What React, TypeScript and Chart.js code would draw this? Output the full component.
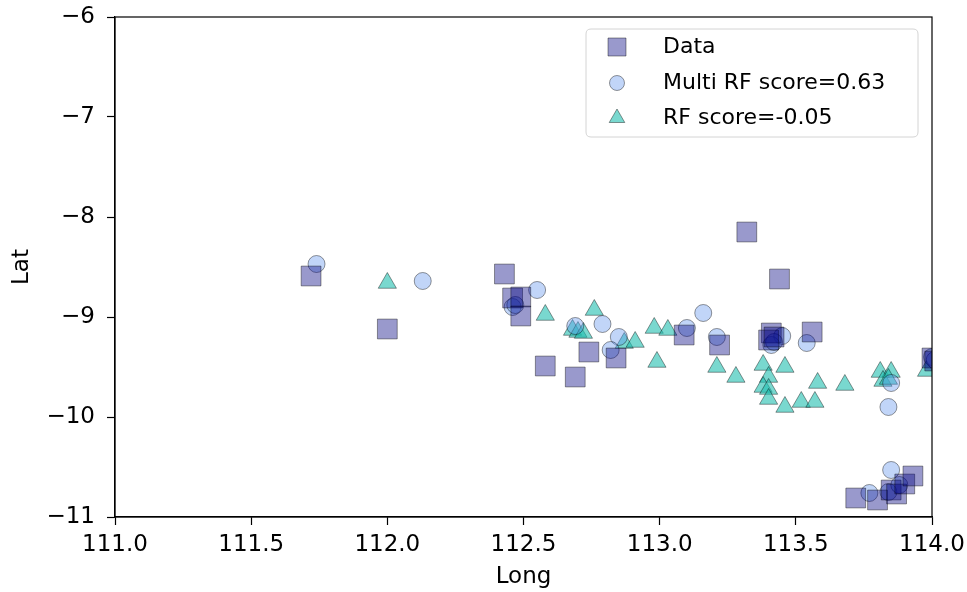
import React, { useEffect, useRef } from 'react';
import { Chart, registerables } from 'chart.js';
Chart.register(...registerables);

const seriesLabels = ['Data', 'Multi RF score=0.63', 'RF score=-0.05'];

const dataLong = [111.72, 112.0, 112.43, 112.46, 112.49, 112.49, 112.58, 112.69, 112.74, 112.84, 113.09, 113.22, 113.32, 113.44, 113.41, 113.4, 113.42, 113.56, 114.0, 114.01, 113.72, 113.8, 113.85, 113.87, 113.9, 113.93];
const dataLat = [-8.59, -9.12, -8.57, -8.81, -8.8, -8.99, -9.49, -9.6, -9.35, -9.41, -9.18, -9.28, -8.15, -8.62, -9.16, -9.23, -9.2, -9.15, -9.41, -9.44, -10.81, -10.83, -10.73, -10.77, -10.67, -10.59];

const multiLong = [111.74, 112.13, 112.55, 112.46, 112.47, 112.69, 112.79, 112.85, 112.82, 113.16, 113.1, 113.21, 113.45, 113.41, 113.42, 113.54, 113.85, 113.84, 114.0, 114.01, 113.85, 113.77, 113.84, 113.88];
const multiLat = [-8.47, -8.64, -8.73, -8.9, -8.88, -9.09, -9.07, -9.2, -9.33, -8.96, -9.11, -9.2, -9.19, -9.28, -9.25, -9.26, -9.66, -9.9, -9.4, -9.43, -10.53, -10.76, -10.75, -10.68];

const rfLong = [112.0, 112.58, 112.76, 112.68, 112.7, 112.72, 112.87, 112.91, 112.98, 113.03, 112.99, 113.21, 113.28, 113.38, 113.46, 113.4, 113.38, 113.4, 113.4, 113.46, 113.52, 113.57, 113.58, 113.68, 113.81, 113.85, 113.82, 113.84, 113.98];
const rfLat = [-8.66, -8.98, -8.93, -9.13, -9.15, -9.16, -9.26, -9.25, -9.11, -9.13, -9.45, -9.5, -9.6, -9.48, -9.5, -9.6, -9.7, -9.72, -9.82, -9.9, -9.85, -9.85, -9.66, -9.68, -9.55, -9.55, -9.64, -9.62, -9.54];

const xTicks = [111.0, 111.5, 112.0, 112.5, 113.0, 113.5, 114.0];
const yTicks = [-11, -10, -9, -8, -7, -6];

const FONT = 'DejaVu Sans';
const FS = 23;

const colData = 'rgba(0,0,128,0.4)';
const colMulti = 'rgba(100,149,237,0.4)';
const colRF = 'rgba(32,190,175,0.6)';
const edge = 'rgba(0,0,0,0.4)';

const zip = (xs: number[], ys: number[]) => xs.map((x, i) => ({ x, y: ys[i] }));

const fmtMinus = (v: number, d: number) => {
  const s = Math.abs(v).toFixed(d);
  return v < 0 ? '\u2212' + s : s;
};

const zeroPad = (s: any) => {
  s.paddingTop = 0;
  s.paddingBottom = 0;
  s.paddingLeft = 0;
  s.paddingRight = 0;
};

const framePlugin = {
  id: 'frameLegend',
  afterDraw(chart: any) {
    const { ctx, chartArea } = chart;
    const { left, right, top, bottom } = chartArea;
    ctx.save();
    ctx.strokeStyle = '#000';
    ctx.lineWidth = 1.2;
    ctx.strokeRect(left, top, right - left, bottom - top);

    // legend box
    const bx = right - 346, by = top + 12, bw = 332, bh = 108, r = 5;
    ctx.beginPath();
    ctx.moveTo(bx + r, by);
    ctx.lineTo(bx + bw - r, by);
    ctx.quadraticCurveTo(bx + bw, by, bx + bw, by + r);
    ctx.lineTo(bx + bw, by + bh - r);
    ctx.quadraticCurveTo(bx + bw, by + bh, bx + bw - r, by + bh);
    ctx.lineTo(bx + r, by + bh);
    ctx.quadraticCurveTo(bx, by + bh, bx, by + bh - r);
    ctx.lineTo(bx, by + r);
    ctx.quadraticCurveTo(bx, by, bx + r, by);
    ctx.closePath();
    ctx.fillStyle = 'rgba(255,255,255,0.8)';
    ctx.fill();
    ctx.strokeStyle = '#d4d4d4';
    ctx.lineWidth = 1;
    ctx.stroke();

    const mx = bx + 31;
    const tx = bx + 77;
    const ys = [by + 18, by + 54, by + 89];
    chart.data.datasets.forEach((ds: any, i: number) => {
      const y = ys[i];
      ctx.fillStyle = ds.backgroundColor;
      ctx.strokeStyle = ds.borderColor;
      ctx.lineWidth = 1;
      ctx.beginPath();
      if (ds.pointStyle === 'rect') {
        ctx.rect(mx - 9, y - 9, 18, 18);
      } else if (ds.pointStyle === 'circle') {
        ctx.arc(mx, y, 7.5, 0, Math.PI * 2);
      } else {
        const rr = 9;
        ctx.moveTo(mx, y - rr);
        ctx.lineTo(mx + rr * 0.866, y + rr * 0.5);
        ctx.lineTo(mx - rr * 0.866, y + rr * 0.5);
        ctx.closePath();
      }
      ctx.fill();
      ctx.stroke();
      ctx.fillStyle = '#000';
      ctx.font = `${FS - 1}px "${FONT}"`;
      ctx.textAlign = 'left';
      ctx.textBaseline = 'middle';
      ctx.fillText(ds.label, tx, y);
    });
    ctx.restore();
  },
};

export default function App() {
  const ref = useRef<HTMLCanvasElement | null>(null);
  useEffect(() => {
    document.body.style.margin = '0';
    const canvas = ref.current!;
    const chart = new Chart(canvas, {
      type: 'scatter',
      data: {
        datasets: [
          {
            label: seriesLabels[0],
            data: zip(dataLong, dataLat),
            pointStyle: 'rect',
            pointRadius: 14,
            backgroundColor: colData,
            borderColor: edge,
            borderWidth: 1,
            clip: 0,
          },
          {
            label: seriesLabels[1],
            data: zip(multiLong, multiLat),
            pointStyle: 'circle',
            pointRadius: 8.5,
            backgroundColor: colMulti,
            borderColor: edge,
            borderWidth: 1,
            clip: 0,
          },
          {
            label: seriesLabels[2],
            data: zip(rfLong, rfLat),
            pointStyle: 'triangle',
            pointRadius: 10.5,
            backgroundColor: colRF,
            borderColor: edge,
            borderWidth: 1,
            clip: 0,
          },
        ] as any,
      },
      options: {
        responsive: false,
        animation: false,
        devicePixelRatio: 1,
        layout: { padding: { top: 17, right: 35, left: 0, bottom: 0 } },
        plugins: { legend: { display: false }, tooltip: { enabled: false } },
        scales: {
          x: {
            type: 'linear',
            min: 111,
            max: 114,
            afterBuildTicks: (s: any) => { s.ticks = xTicks.map((v) => ({ value: v })); },
            afterFit: (s: any) => { s.height = 75; zeroPad(s); },
            grid: { drawOnChartArea: false, drawTicks: true, tickLength: 8, color: '#000', tickWidth: 1.2 },
            border: { display: true, color: '#000', width: 1.2 },
            ticks: {
              padding: 6,
              color: '#000',
              font: { family: FONT, size: FS },
              maxRotation: 0,
              autoSkip: false,
              callback: (v: any) => Number(v).toFixed(1),
            },
            title: { display: true, text: 'Long', color: '#000', font: { family: FONT, size: FS }, padding: { top: 0, bottom: 1 } },
          },
          y: {
            type: 'linear',
            min: -11,
            max: -6,
            afterBuildTicks: (s: any) => { s.ticks = yTicks.map((v) => ({ value: v })); },
            afterFit: (s: any) => { s.width = 115; zeroPad(s); },
            grid: { drawOnChartArea: false, drawTicks: true, tickLength: 8, color: '#000', tickWidth: 1.2 },
            border: { display: true, color: '#000', width: 1.2 },
            ticks: {
              padding: 12,
              color: '#000',
              font: { family: FONT, size: FS },
              autoSkip: false,
              callback: (v: any) => fmtMinus(Number(v), 0),
            },
            title: { display: true, text: 'Lat', color: '#000', font: { family: FONT, size: FS }, padding: { top: 8, bottom: 0 } },
          },
        },
      },
      plugins: [framePlugin],
    });
    return () => chart.destroy();
  }, []);
  return <canvas ref={ref} width={967} height={592} style={{ display: 'block' }} />;
}
